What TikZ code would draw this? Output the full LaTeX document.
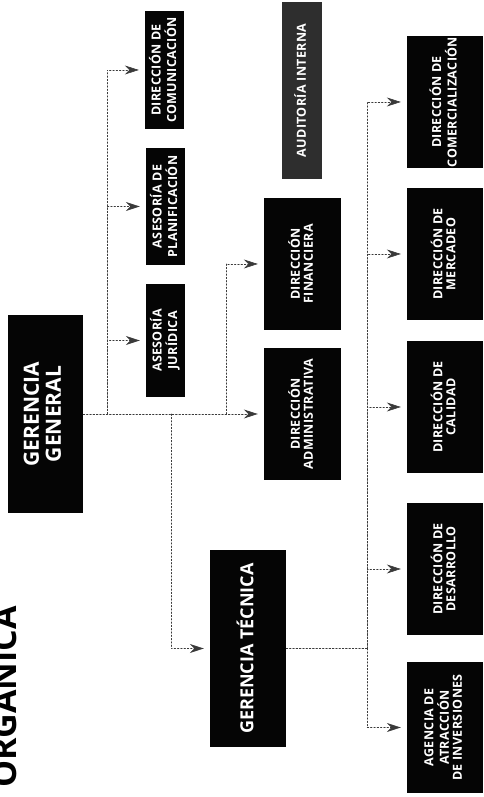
\documentclass[tikz,border=0pt]{standalone}
\usepackage{fontspec}
\setmainfont{Open Sans}
\newfontfamily\unitfont[LetterSpace=3]{Open Sans}
\usepackage{graphicx}
\usetikzlibrary{arrows.meta}
\definecolor{unitfill}{HTML}{050505}
\definecolor{auditfill}{HTML}{2E2E2E}
\definecolor{linkline}{HTML}{3A3A3A}
\newcommand{\uptext}[1]{\rotatebox{90}{\begin{tabular}{@{}c@{}}#1\end{tabular}}}

\tikzset{
  unit/.style={fill=unitfill,text=white,inner sep=0pt,font=\unitfont\bfseries\fontsize{12.5}{13}\selectfont},
  wideunit/.style={unit,minimum width=77pt,minimum height=132pt},
  thinunit/.style={unit,minimum width=39pt},
  link/.style={draw=linkline,line width=.6pt,dash pattern=on 1.5pt off 1.8pt},
  linkarrow/.style={link,-{Stealth[length=14pt,width=9pt]},shorten >=6pt}
}

\begin{document}
\begin{tikzpicture}[x=1pt,y=1pt,line cap=round,line join=round]
  \useasboundingbox (0,0) rectangle (483,797);
  \node[rotate=90,anchor=base,font=\bfseries\fontsize{34}{34}\selectfont] (title) at (17,100) {ORGANICA};

  \node[unit,minimum width=75pt,minimum height=198pt,font=\bfseries\fontsize{21}{22}\selectfont] (gg) at (45.5,383) {\uptext{GERENCIA\\GENERAL}};
  \node[thinunit,minimum height=113pt] (juridica) at (165.5,456.5) {\uptext{ASESORÍA\\JURÍDICA}};
  \node[thinunit,minimum height=117pt] (planif) at (165.5,590.5) {\uptext{ASESORÍA DE\\PLANIFICACIÓN}};
  \node[thinunit,minimum height=118pt] (comunic) at (164.5,727) {\uptext{DIRECCIÓN DE\\COMUNICACIÓN}};
  \node[unit,fill=auditfill,minimum width=40pt,minimum height=177pt] (auditoria) at (302,706.5) {\uptext{AUDITORÍA INTERNA}};
  \node[wideunit] (financiera) at (302.5,533) {\uptext{DIRECCIÓN\\FINANCIERA}};
  \node[wideunit] (administrativa) at (302.5,383) {\uptext{DIRECCIÓN\\ADMINISTRATIVA}};
  \node[unit,minimum width=76pt,minimum height=197pt,font=\bfseries\fontsize{18}{20}\selectfont] (tecnica) at (248,148.5) {\uptext{GERENCIA TÉCNICA}};

  \node[wideunit,minimum width=76pt] (comercial) at (445,695) {\uptext{DIRECCIÓN DE\\COMERCIALIZACIÓN}};
  \node[wideunit,minimum width=76pt] (mercadeo) at (445,543) {\uptext{DIRECCIÓN DE\\MERCADEO}};
  \node[wideunit,minimum width=76pt] (calidad) at (445,390) {\uptext{DIRECCIÓN DE\\CALIDAD}};
  \node[wideunit,minimum width=76pt] (desarrollo) at (445,228) {\uptext{DIRECCIÓN DE\\DESARROLLO}};
  \node[wideunit,minimum width=76pt,minimum height=131pt] (agencia) at (445,69.5) {\uptext{AGENCIA DE\\ATRACCIÓN\\DE INVERSIONES}};

  % junctions on the lines
  \coordinate (staff) at (107,383);
  \coordinate (tecdrop) at (171,383);
  \coordinate (findrop) at (226,383);
  \coordinate (tecbus) at (367,148.5);

  \draw[linkarrow,line width=.8pt] (gg.east) -- (administrativa.west);
  \foreach \n in {comunic,planif,juridica} \draw[linkarrow] (staff) |- (\n.west);
  \draw[linkarrow] (tecdrop) |- (tecnica.west);
  \draw[linkarrow] (findrop) |- (financiera.west);
  \draw[link,line width=.8pt] (tecnica.east) -- (tecbus);
  \foreach \n in {comercial,mercadeo,calidad,desarrollo,agencia} \draw[linkarrow] (tecbus) |- (\n.west);
\end{tikzpicture}
\end{document}
